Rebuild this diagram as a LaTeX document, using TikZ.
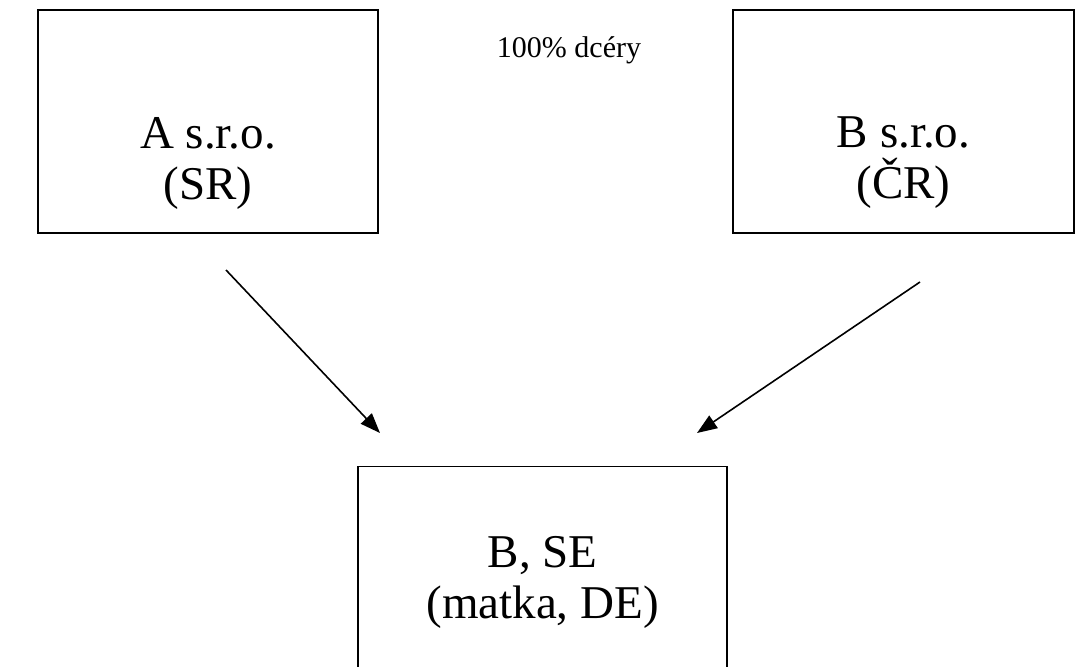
\documentclass[tikz,border=0pt]{standalone}
\usepackage{fontspec}
\setmainfont{Liberation Serif}
\usetikzlibrary{arrows.meta}
\begin{document}
\begin{tikzpicture}[x=1pt,y=-1pt,
  entity/.style={draw,line width=1.4pt,inner sep=0pt},
  bigtext/.style={align=center,font=\fontsize{47}{51}\selectfont},
  link/.style={line width=1.6pt,-{Triangle[length=20pt,width=15pt]}}]
\clip (0,0) rectangle (1085,667);
\fill[white] (0,0) rectangle (1085,667);

% subsidiaries
\node[entity,minimum width=340pt,minimum height=223pt] (A) at (208,121.5) {};
\node[bigtext] (Atxt) at (208,163) {A s.r.o.\\(SR)};
\node[entity,minimum width=341pt,minimum height=223pt] (B) at (903.5,121.5) {};
\node[bigtext] (Btxt) at (903.5,163) {B s.r.o.\\(ČR)};
\node[font=\fontsize{30}{36}\selectfont] (note) at (569,50) {100\% dcéry};

% parent company (box runs past the lower edge)
\node[entity,minimum width=369pt,minimum height=260pt,anchor=north] (C) at (542.5,466) {};
\node[bigtext] (Ctxt) at (542.5,582) {B, SE\\(matka, DE)};

% mergers into the parent
\coordinate (a1) at (226,270);
\coordinate (a2) at (380,433);
\coordinate (b1) at (920,282);
\coordinate (b2) at (697,433);
\draw[link] (a1) -- (a2);
\draw[link] (b1) -- (b2);
\end{tikzpicture}
\end{document}
